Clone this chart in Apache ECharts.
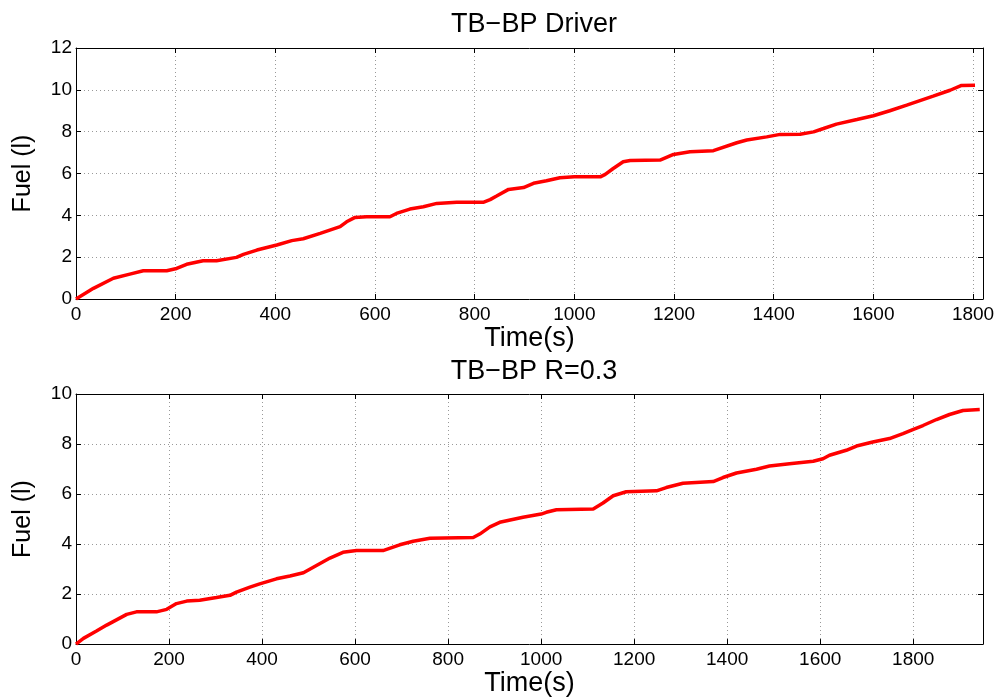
<!DOCTYPE html>
<html>
<head>
<meta charset="utf-8">
<script src="https://cdn.jsdelivr.net/npm/echarts@6/dist/echarts.min.js"></script>
<style>
  html, body { margin: 0; padding: 0; background: #fff; }
  #root { width: 998px; height: 698px; }
</style>
</head>
<body>
<div id="root"></div>
<script>
// top panel: TB-BP Driver
const timeDriver = [0, 35, 75, 108, 135, 182, 202, 222, 255, 282, 322, 336, 363, 403, 433, 456, 490, 530, 543, 560, 583, 630, 643, 670, 697, 724, 764, 817, 831, 844, 868, 898, 918, 944, 971, 1000, 1052, 1062, 1078, 1098, 1112, 1172, 1199, 1232, 1279, 1326, 1346, 1386, 1413, 1453, 1480, 1500, 1526, 1567, 1600, 1633, 1667, 1720, 1754, 1777, 1804]
const fuelDriver = [0, 0.51, 0.99, 1.19, 1.35, 1.35, 1.46, 1.66, 1.83, 1.83, 1.99, 2.13, 2.34, 2.58, 2.79, 2.88, 3.14, 3.46, 3.69, 3.90, 3.93, 3.93, 4.09, 4.30, 4.41, 4.57, 4.62, 4.62, 4.75, 4.92, 5.24, 5.33, 5.53, 5.65, 5.80, 5.84, 5.84, 5.96, 6.24, 6.56, 6.62, 6.64, 6.91, 7.04, 7.09, 7.47, 7.60, 7.75, 7.87, 7.88, 7.99, 8.15, 8.36, 8.58, 8.76, 9.00, 9.27, 9.70, 9.98, 10.21, 10.22]

// bottom panel: TB-BP R=0.3
const timeR03 = [0, 16, 44, 66, 95, 109, 130, 173, 195, 216, 238, 266, 302, 331, 345, 374, 395, 431, 460, 489, 517, 546, 574, 603, 660, 696, 725, 761, 854, 868, 890, 911, 961, 1000, 1011, 1033, 1112, 1133, 1155, 1183, 1248, 1269, 1305, 1370, 1391, 1420, 1463, 1491, 1534, 1585, 1606, 1620, 1656, 1678, 1713, 1749, 1778, 1799, 1821, 1850, 1878, 1907, 1943]
const fuelR03 = [0, 0.23, 0.52, 0.76, 1.05, 1.19, 1.29, 1.29, 1.39, 1.62, 1.72, 1.75, 1.86, 1.95, 2.08, 2.28, 2.41, 2.61, 2.72, 2.85, 3.14, 3.44, 3.67, 3.74, 3.74, 3.97, 4.11, 4.23, 4.26, 4.40, 4.69, 4.87, 5.07, 5.20, 5.27, 5.37, 5.40, 5.64, 5.93, 6.09, 6.13, 6.26, 6.43, 6.50, 6.66, 6.84, 6.99, 7.12, 7.21, 7.31, 7.41, 7.55, 7.75, 7.92, 8.08, 8.22, 8.42, 8.58, 8.74, 8.98, 9.18, 9.34, 9.38]

const titles = ['TB\u2212BP Driver', 'TB\u2212BP R=0.3']
const xMax = [1820, 1950]
const yMax = [12, 10]

const FONT = '"Liberation Sans", Arial, Helvetica, sans-serif'

const pairs = (xs, ys) => xs.map((x, i) => [x, ys[i]])

const grids = [
  { left: 76, right: 15, top: 48, height: 251 },
  { left: 76, right: 15, top: 394, height: 252 }
]

const gridLine = { show: true, lineStyle: { color: '#999', type: [1, 3], width: 1 } }
const line = { show: true, onZero: false, lineStyle: { color: '#000', width: 1 } }
const tick = { show: true, inside: true, length: 5, lineStyle: { color: '#000' } }

const xAxes = []
const yAxes = []
grids.forEach((g, i) => {
  xAxes.push({
    type: 'value', gridIndex: i, min: 0, max: xMax[i], interval: 200, position: 'bottom',
    name: 'Time(s)', nameLocation: 'middle', nameGap: 21,
    nameTextStyle: { fontFamily: FONT, fontSize: 27, color: '#000' },
    axisLine: line, axisTick: tick, splitLine: gridLine,
    axisLabel: { fontFamily: FONT, fontSize: 19, color: '#000', margin: 6, showMaxLabel: false, formatter: v => String(v) }
  })
  xAxes.push({
    type: 'value', gridIndex: i, min: 0, max: xMax[i], interval: 200, position: 'top',
    axisLine: line, axisTick: tick, splitLine: { show: false }, axisLabel: { show: false }
  })
  yAxes.push({
    type: 'value', gridIndex: i, min: 0, max: yMax[i], interval: 2, position: 'left',
    name: 'Fuel (l)', nameLocation: 'middle', nameGap: 40,
    nameTextStyle: { fontFamily: FONT, fontSize: 25, color: '#000' },
    axisLine: line, axisTick: tick, splitLine: gridLine,
    axisLabel: { fontFamily: FONT, fontSize: 19, color: '#000', margin: 4, formatter: v => String(v) }
  })
  yAxes.push({
    type: 'value', gridIndex: i, min: 0, max: yMax[i], interval: 2, position: 'right',
    axisLine: line, axisTick: tick, splitLine: { show: false }, axisLabel: { show: false }
  })
})

const seriesStyle = { type: 'line', showSymbol: false, smooth: false, lineStyle: { color: '#ff0000', width: 3.5 }, itemStyle: { color: '#ff0000' } }

const option = {
  animation: false,
  backgroundColor: '#fff',
  title: [
    { text: titles[0], left: 529, top: 6, textAlign: 'center', textStyle: { fontFamily: FONT, fontSize: 27, fontWeight: 'normal', color: '#000' } },
    { text: titles[1], left: 529, top: 353, textAlign: 'center', textStyle: { fontFamily: FONT, fontSize: 27, fontWeight: 'normal', color: '#000' } }
  ],
  grid: grids,
  xAxis: xAxes,
  yAxis: yAxes,
  series: [
    Object.assign({}, seriesStyle, { xAxisIndex: 0, yAxisIndex: 0, data: pairs(timeDriver, fuelDriver) }),
    Object.assign({}, seriesStyle, { xAxisIndex: 2, yAxisIndex: 2, data: pairs(timeR03, fuelR03) })
  ]
}

const chart = echarts.init(document.getElementById('root'))
chart.setOption(option)
</script>
</body>
</html>
